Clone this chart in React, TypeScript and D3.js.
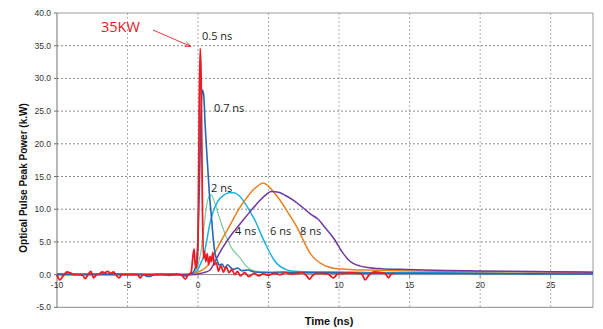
import React from "react";
import * as d3 from "d3";

// ---- data (time in ns, power in kW) ----
const redT = [-10, -9.8, -9.6, -9.3, -9.1, -8.8, -8.5, -8.2, -8.0, -7.8, -7.6, -7.4, -7.2, -7.0, -6.8, -6.6, -6.4, -6.2, -6.0, -5.8, -5.6, -5.4, -5.0, -4.6, -4.3, -4.1, -3.9, -3.5, -3.0, -2.5, -2.0, -1.5, -1.2, -0.9, -0.7, -0.5, -0.35, -0.28, -0.2, -0.1, 0.0, 0.08, 0.15, 0.22, 0.3, 0.38, 0.45, 0.55, 0.65, 0.75, 0.85, 0.95, 1.05, 1.15, 1.3, 1.45, 1.6, 1.8, 2.0, 2.2, 2.4, 2.6, 2.8, 3.0, 3.3, 3.6, 4.0, 4.3, 4.6, 5.0, 5.4, 5.8, 6.2, 6.6, 7.0, 7.4, 7.7, 7.9, 8.1, 8.4, 8.8, 9.2, 9.6, 9.9, 10.3, 10.8, 11.3, 11.6, 11.85, 12.1, 12.5, 13.0, 13.3, 13.5, 13.7, 13.9];
const redP = [0, -0.8, -0.3, 0.4, 0.3, 0, 0, -0.1, -0.6, 0, 0.5, -0.5, 0, 0.1, 0.4, 0.3, 0.5, 0.2, 0.4, -0.1, -0.5, 0, 0, 0, 0, -0.5, 0, 0, 0, 0, -0.1, 0, 0, -0.7, 0, 0.3, 3.0, 3.9, 1.5, 1.0, 5, 25, 34.6, 30, 12, 2.5, 3.6, 2.0, 3.2, 1.5, 2.8, 2.0, 3.4, 1.5, 1.8, 0.5, 1.4, 0.4, 1.2, 0.3, 0.8, 0, 0.5, -0.2, 0.3, -0.3, 0.2, -0.2, 0.1, -0.1, 0.2, 0, 0.3, 0.1, 0.2, 0.3, -0.2, -0.7, -0.2, 0.2, 0.2, 0.1, -0.5, 0.1, 0.2, 0.3, 0.2, 0.1, -0.8, -0.1, 0.4, 0.3, 0.1, -0.5, 0.1, 0.2];

const blueT = [-10, -8, -6, -4, -3.5, -3, -1.5, -1, -0.5, -0.3, -0.15, 0, 0.1, 0.2, 0.3, 0.4, 0.5, 0.62, 0.8, 0.97, 1.1, 1.2, 1.35, 1.5, 1.7, 1.9, 2.1, 2.3, 2.5, 2.8, 3.1, 3.5, 4, 5, 6, 7, 9, 12, 15, 20, 25, 28];
const blueP = [0.1, 0.05, 0.1, 0.05, -0.3, 0.05, 0.1, -0.2, 0.1, 0.5, 1.5, 6, 14, 24, 28.2, 27.5, 23, 18.6, 12.5, 8.3, 5, 3.3, 2.2, 1.5, 1.6, 1.0, 1.5, 1.1, 0.8, 1.0, 0.6, 0.7, 0.4, 0.3, 0.4, 0.3, 0.3, 0.2, 0.2, 0.15, 0.1, 0.1];

const greenT = [-10, -1, -0.5, -0.2, 0, 0.2, 0.4, 0.6, 0.8, 0.95, 1.1, 1.4, 1.7, 2.0, 2.4, 2.7, 3.0, 3.3, 3.7, 4.2, 5, 7, 10, 15, 20, 28];
const greenP = [0, 0, 0.1, 0.5, 1.5, 3.5, 7, 10.5, 12.0, 12.2, 11.5, 9.5, 7.5, 5.8, 4.0, 3.2, 2.5, 1.6, 0.8, 0.5, 0.4, 0.3, 0.2, 0.2, 0.2, 0.2];

const cyanT = [-10, -0.5, -0.2, 0, 0.2, 0.38, 0.6, 0.85, 1.1, 1.4, 1.8, 2.2, 2.5, 2.9, 3.3, 3.7, 4.1, 4.5, 4.8, 5.1, 5.4, 5.8, 6.2, 6.8, 8, 10, 13, 18, 23, 28];
const cyanP = [0, 0, 0.3, 0.8, 1.8, 2.7, 5, 7.9, 9.8, 11.2, 12.1, 12.5, 12.5, 12.1, 11.0, 9.6, 8.0, 6.0, 4.6, 3.3, 2.2, 1.3, 0.8, 0.5, 0.4, 0.4, 0.3, 0.3, 0.2, 0.2];

const orangeT = [-10, -0.5, -0.2, 0.2, 0.6, 1.0, 1.4, 1.8, 2.2, 2.6, 3.0, 3.4, 3.8, 4.2, 4.6, 5.0, 5.4, 5.8, 6.2, 6.6, 7.0, 7.3, 7.7, 8.0, 8.4, 8.8, 9.2, 9.7, 10.3, 11, 12, 14, 17, 20, 24, 28];
const orangeP = [0, 0, 0.2, 0.6, 1.2, 2.5, 4.2, 5.8, 7.3, 8.9, 10.4, 11.6, 12.7, 13.5, 14.0, 13.5, 12.5, 11.4, 10.1, 8.7, 7.3, 6.0, 4.2, 3.1, 2.2, 1.6, 1.2, 0.95, 0.85, 0.75, 0.7, 0.6, 0.5, 0.45, 0.4, 0.35];

const purpleT = [-10, -0.3, 0, 0.4, 0.85, 1.2, 1.5, 1.8, 2.4, 3.0, 3.6, 4.2, 4.7, 5.2, 5.7, 6.2, 6.8, 7.4, 8.0, 8.5, 9.0, 9.6, 10.3, 10.6, 11.0, 11.5, 12.0, 13, 14.3, 16, 19, 22, 25, 28];
const purpleP = [0, 0, 0.1, 0.3, 0.7, 2.0, 3.2, 4.3, 6.2, 7.8, 9.4, 10.9, 12.0, 12.7, 12.6, 12.1, 11.3, 10.3, 9.2, 8.5, 7.2, 5.6, 3.2, 2.4, 1.7, 1.3, 1.1, 0.9, 0.8, 0.7, 0.6, 0.5, 0.45, 0.35];

const xTicks = [-10, -5, 0, 5, 10, 15, 20, 25];
const yTicks = [-5, 0, 5, 10, 15, 20, 25, 30, 35, 40];

const seriesLabels = ["0.5 ns", "0.7 ns", "2 ns", "4 ns", "6 ns", "8 ns"];

const W = 603, H = 329;
const L = 57, R = 593, T = 13, B = 307.3;

export default function App() {
  const x = d3.scaleLinear().domain([-10, 28]).range([L, R]);
  const y = d3.scaleLinear().domain([-5, 40]).range([B, T]);
  const line = d3
    .line<[number, number]>()
    .x((d) => x(d[0]))
    .y((d) => y(d[1]))
    .curve(d3.curveMonotoneX);
  const zip = (a: number[], b: number[]) => a.map((t, i) => [t, b[i]] as [number, number]);

  const series = [
    { t: greenT, p: greenP, color: "#7dca98", w: 1.2 },
    { t: cyanT, p: cyanP, color: "#1eb1e2", w: 1.5 },
    { t: orangeT, p: orangeP, color: "#e8821f", w: 1.5 },
    { t: purpleT, p: purpleP, color: "#7238a0", w: 1.5 },
    { t: blueT, p: blueP, color: "#2468b2", w: 1.6 },
    { t: redT, p: redP, color: "#ec1b24", w: 1.8 },
  ];

  const tickFont = "'Liberation Sans', Arial, sans-serif";
  const labFont = "'Open Sans', sans-serif";

  return (
    <svg width={W} height={H} style={{ position: "absolute", left: 0, top: 0, background: "#fff" }}>
      <rect x={0} y={0} width={W} height={H} fill="#fff" />
      {/* horizontal grid */}
      {yTicks.filter((v) => v > -5 && v < 40 && v !== 0).map((v) => (
        <line key={"hy" + v} x1={L} x2={R} y1={y(v)} y2={y(v)} stroke="#8c8c8c" strokeWidth={1} strokeDasharray="2,2" />
      ))}
      {/* vertical grid */}
      {xTicks.filter((v) => v > -10).map((v) => (
        <line key={"vx" + v} x1={x(v)} x2={x(v)} y1={T} y2={B} stroke="#b0b0b0" strokeWidth={1} strokeDasharray="2,2" />
      ))}
      {/* frame */}
      <line x1={L} x2={R} y1={T} y2={T} stroke="#9a9a9a" />
      <line x1={R} x2={R} y1={T} y2={B} stroke="#9a9a9a" />
      <line x1={L} x2={R} y1={B} y2={B} stroke="#8a8a8a" />
      <line x1={L} x2={L} y1={T} y2={B} stroke="#707070" />
      {/* x axis at 0 */}
      <line x1={L} x2={R} y1={y(0)} y2={y(0)} stroke="#8a8a8a" />
      {xTicks.map((v) => (
        <line key={"xt" + v} x1={x(v)} x2={x(v)} y1={y(0)} y2={y(0) + 3} stroke="#8a8a8a" />
      ))}
      {/* y ticks */}
      {yTicks.map((v) => (
        <g key={"yt" + v}>
          <line x1={L - 3} x2={L} y1={y(v)} y2={y(v)} stroke="#707070" />
          <text x={51} y={y(v) + 3} textAnchor="end" fontFamily={tickFont} fontSize={8.5} fill="#333">
            {v.toFixed(1)}
          </text>
        </g>
      ))}
      {/* series */}
      {series.map((s, i) => (
        <path key={"s" + i} d={line(zip(s.t, s.p)) || ""} fill="none" stroke={s.color} strokeWidth={s.w} strokeLinejoin="round" />
      ))}
      {/* x tick labels */}
      {xTicks.map((v) => (
        <text key={"xl" + v} x={x(v)} y={288} textAnchor="middle" fontFamily={tickFont} fontSize={8.5} fill="#333">
          {v}
        </text>
      ))}
      {/* axis titles */}
      <text x={329} y={325} textAnchor="middle" fontFamily={tickFont} fontWeight="bold" fontSize={11} fill="#111">
        Time (ns)
      </text>
      <text
        transform={`translate(27,178) rotate(-90)`}
        textAnchor="middle"
        fontFamily={tickFont}
        fontWeight="bold"
        fontSize={10}
        fill="#111"
      >
        Optical Pulse Peak Power (k.W)
      </text>
      {/* annotations */}
      <text x={101} y={32} fontFamily={labFont} fontSize={14.5} fill="#e8141c">35KW</text>
      <line x1={153} y1={30} x2={191} y2={46.5} stroke="#e03a40" strokeWidth={1} />
      <path d="M184.5,46.2 L191,46.5 L186.3,42" fill="none" stroke="#e03a40" strokeWidth={1} />
      <text x={202} y={40} fontFamily={labFont} fontSize={11} fill="#222">{seriesLabels[0]}</text>
      <text x={214} y={112} fontFamily={labFont} fontSize={11} fill="#222">{seriesLabels[1]}</text>
      <text x={211} y={192} fontFamily={labFont} fontSize={11} fill="#222">{seriesLabels[2]}</text>
      <text x={235} y={235} fontFamily={labFont} fontSize={11} fill="#222">{seriesLabels[3]}</text>
      <text x={270} y={235} fontFamily={labFont} fontSize={11} fill="#222">{seriesLabels[4]}</text>
      <text x={300} y={235} fontFamily={labFont} fontSize={11} fill="#222">{seriesLabels[5]}</text>
    </svg>
  );
}
